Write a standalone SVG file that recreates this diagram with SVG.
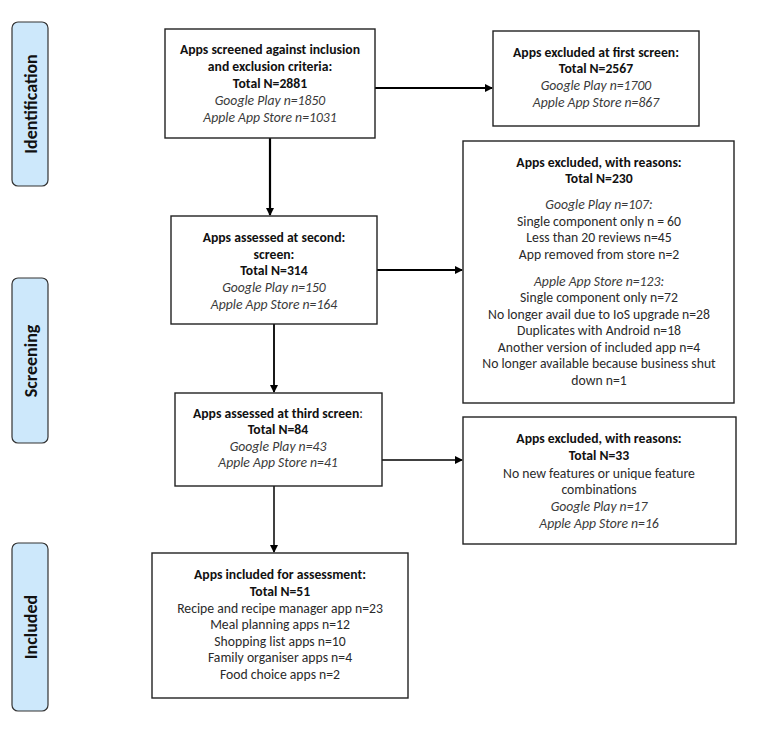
<svg xmlns="http://www.w3.org/2000/svg" width="765" height="730" viewBox="0 0 765 730">
<defs>
<marker id="ah" markerWidth="8" markerHeight="8" refX="7" refY="4" orient="auto" markerUnits="userSpaceOnUse">
<path d="M0,0 L8,4 L0,8 Z" fill="#000"/>
</marker>
<style>
text{font-family:Carlito,Lato,"Liberation Sans",sans-serif;font-size:13.7px;fill:#2a2a2a;text-anchor:middle;dominant-baseline:central}
.b{font-weight:bold;fill:#111}
.i{font-style:italic;fill:#3a3a3a}
.box{fill:#fff;stroke:#222;stroke-width:1.4}
.lab{fill:#cde8fb;stroke:#333;stroke-width:1.2}
.lt{font-size:18px;font-weight:bold;fill:#111}
.c{stroke:#000;fill:none}
</style>
</defs>
<rect width="765" height="730" fill="#fff"/>

<g id="label-identification">
<rect class="lab" x="12" y="22" width="36" height="164" rx="6"/>
<text class="lt" transform="translate(31,104) rotate(-90)">Identification</text>
</g>
<g id="label-screening">
<rect class="lab" x="12" y="278" width="36" height="165" rx="6"/>
<text class="lt" transform="translate(31,361) rotate(-90)">Screening</text>
</g>
<g id="label-included">
<rect class="lab" x="12" y="543" width="36" height="168" rx="6"/>
<text class="lt" transform="translate(31,627) rotate(-90)">Included</text>
</g>

<g id="connectors">
<line class="c" x1="375" y1="88" x2="492" y2="88" stroke-width="2" marker-end="url(#ah)"/>
<line class="c" x1="270" y1="138" x2="270" y2="215" stroke-width="2.2" marker-end="url(#ah)"/>
<line class="c" x1="377" y1="270" x2="462" y2="270" stroke-width="2" marker-end="url(#ah)"/>
<line class="c" x1="274" y1="324" x2="274" y2="392" stroke-width="1.8" marker-end="url(#ah)"/>
<line class="c" x1="382" y1="460" x2="462" y2="460" stroke-width="1.5" marker-end="url(#ah)"/>
<line class="c" x1="274" y1="486" x2="274" y2="552" stroke-width="1.5" marker-end="url(#ah)"/>
</g>

<g id="screened">
<rect class="box" x="165" y="29" width="210" height="109"/>
<text class="b" x="270" y="49">Apps screened against inclusion</text>
<text class="b" x="270" y="66">and exclusion criteria:</text>
<text class="b" x="270" y="83">Total N=2881</text>
<text class="i" x="270" y="100">Google Play n=1850</text>
<text class="i" x="270" y="117">Apple App Store n=1031</text>
</g>

<g id="excluded-first">
<rect class="box" x="493" y="31" width="206" height="95"/>
<text class="b" x="596" y="52">Apps excluded at first screen:</text>
<text class="b" x="596" y="68">Total N=2567</text>
<text class="i" x="596" y="85">Google Play n=1700</text>
<text class="i" x="596" y="102">Apple App Store n=867</text>
</g>

<g id="second-screen">
<rect class="box" x="171" y="216" width="206" height="108"/>
<text class="b" x="274" y="237">Apps assessed at second:</text>
<text class="b" x="274" y="254">screen:</text>
<text class="b" x="274" y="270">Total N=314</text>
<text class="i" x="274" y="287">Google Play n=150</text>
<text class="i" x="274" y="304">Apple App Store n=164</text>
</g>

<g id="excluded-second">
<rect class="box" x="463" y="141" width="271" height="262"/>
<text class="b" x="599" y="162">Apps excluded, with reasons:</text>
<text class="b" x="599" y="178.5">Total N=230</text>
<text class="i" x="599" y="204">Google Play n=107:</text>
<text x="599" y="221">Single component only n = 60</text>
<text x="599" y="237">Less than 20 reviews n=45</text>
<text x="599" y="254">App removed from store n=2</text>
<text class="i" x="599" y="281">Apple App Store n=123:</text>
<text x="599" y="297">Single component only n=72</text>
<text x="599" y="314">No longer avail due to IoS upgrade n=28</text>
<text x="599" y="330">Duplicates with Android n=18</text>
<text x="599" y="347">Another version of included app n=4</text>
<text x="599" y="363">No longer available because business shut</text>
<text x="599" y="380">down n=1</text>
</g>

<g id="third-screen">
<rect class="box" x="175" y="393" width="207" height="93"/>
<text x="278" y="413"><tspan class="b">Apps assessed at third screen</tspan>:</text>
<text class="b" x="278" y="429">Total N=84</text>
<text class="i" x="278" y="446">Google Play n=43</text>
<text class="i" x="278" y="462">Apple App Store n=41</text>
</g>

<g id="excluded-third">
<rect class="box" x="463" y="417" width="273" height="127"/>
<text class="b" x="599" y="438">Apps excluded, with reasons:</text>
<text class="b" x="599" y="455">Total N=33</text>
<text x="599" y="473">No new features or unique feature</text>
<text x="599" y="489">combinations</text>
<text class="i" x="599" y="506">Google Play n=17</text>
<text class="i" x="599" y="523">Apple App Store n=16</text>
</g>

<g id="included">
<rect class="box" x="152" y="553" width="256" height="145"/>
<text class="b" x="280" y="574">Apps included for assessment:</text>
<text class="b" x="280" y="591">Total N=51</text>
<text x="280" y="608">Recipe and recipe manager app n=23</text>
<text x="280" y="624">Meal planning apps n=12</text>
<text x="280" y="641">Shopping list apps n=10</text>
<text x="280" y="657">Family organiser apps n=4</text>
<text x="280" y="674">Food choice apps n=2</text>
</g>
</svg>
